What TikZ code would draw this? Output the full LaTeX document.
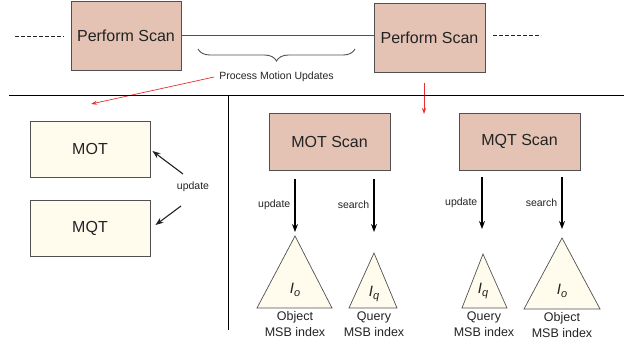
\documentclass[tikz,border=0pt]{standalone}
\usepackage{fontspec}
\setmainfont{Liberation Sans}
\usetikzlibrary{arrows.meta,decorations.pathreplacing}
\definecolor{scanfill}{RGB}{228,195,180}
\definecolor{tablefill}{RGB}{255,252,238}
\definecolor{edge}{RGB}{80,80,80}
\definecolor{ink}{RGB}{35,35,35}
\definecolor{flow}{RGB}{235,45,45}
\newcommand{\idxlabel}[1]{{\fontsize{15}{17}\selectfont\itshape I\raisebox{-3pt}{\fontsize{11}{12}\selectfont #1}}}
\begin{document}
\begin{tikzpicture}[x=1pt,y=-1pt,
  every node/.style={text=ink, inner sep=0pt},
  scanbox/.style={draw=edge, line width=0.9pt, fill=scanfill, font=\fontsize{16}{19}\selectfont},
  tablebox/.style={draw=edge, line width=0.9pt, fill=tablefill, minimum width=120pt, minimum height=56pt, font=\fontsize{16}{19}\selectfont},
  small/.style={font=\fontsize{10.5}{12}\selectfont},
  caption/.style={font=\fontsize{12.5}{16}\selectfont, align=center, anchor=north},
  idx/.style={draw=edge, line width=0.7pt, fill=tablefill, line join=miter},
  push/.style={-{Stealth[length=8pt,width=6pt]}, line width=1.1pt, draw=black},
  slant/.style={-{Stealth[length=8pt,width=6pt]}, line width=1.1pt, draw=ink},
  redarrow/.style={-{Stealth[length=6pt,width=4pt]}, draw=flow, line width=0.7pt},
  rule/.style={draw=black, line width=0.8pt},
  elide/.style={draw=ink, line width=1pt, dash pattern=on 4pt off 2pt}]
\useasboundingbox (0,0) rectangle (631,349);

% timeline of scans
\node[scanbox, minimum width=110pt, minimum height=69pt] (ps1) at (126,35.5) {Perform Scan};
\node[scanbox, minimum width=111pt, minimum height=69pt] (ps2) at (429.5,37.5) {Perform Scan};
\coordinate (dl1) at (15,36);
\coordinate (dl2) at (64,36);
\coordinate (dr1) at (493,35);
\coordinate (dr2) at (541,35);
\draw[elide] (dl1) -- (dl2);
\draw[elide] (dr1) -- (dr2);
\draw[draw=edge, line width=0.9pt] (ps1.east) -- (ps1.east -| ps2.west);

% interval between the scans
\coordinate (br1) at (198,49);
\coordinate (br2) at (355,49);
\draw[draw=edge, line width=0.9pt, decorate, decoration={brace, mirror, amplitude=12pt}] (br1) -- (br2);
\node[small] (pmu) at (276.5,77) {Process Motion Updates};
\coordinate (pmutip) at (91,104);
\draw[redarrow] ([xshift=-5pt]pmu.west) -- (pmutip);
\coordinate (scanfrom) at (424,83);
\coordinate (scanto) at (424,114);
\draw[redarrow] (scanfrom) -- (scanto);

% panel rules
\coordinate (hl1) at (9,95);
\coordinate (hl2) at (624,95);
\coordinate (vl1) at (228,95);
\coordinate (vl2) at (228,330);
\draw[rule] (hl1) -- (hl2);
\draw[rule] (vl1) -- (vl2);

% left panel: tables
\node[tablebox] (mot) at (90,149) {MOT};
\node[tablebox] (mqt) at (90,228) {MQT};
\node[small] (upd) at (193,187) {update};
\coordinate (u1) at (183,174);
\coordinate (u2) at (181,206);
\draw[slant] (u1) -- ([xshift=2pt,yshift=-2pt]mot.east);
\draw[slant] (u2) -- ([xshift=5pt,yshift=3pt]mqt.east);

% right panel: scans
\node[scanbox, minimum width=121pt, minimum height=57pt] (mots) at (329.5,141.5) {MOT Scan};
\node[scanbox, minimum width=121pt, minimum height=57pt] (mqts) at (519.5,141.5) {MQT Scan};

\coordinate (a1s) at (295,179); \coordinate (a1e) at (295,232);
\coordinate (a2s) at (374,179); \coordinate (a2e) at (374,232);
\coordinate (a3s) at (482,177); \coordinate (a3e) at (482,229);
\coordinate (a4s) at (562,177); \coordinate (a4e) at (562,229);
\draw[push] (a1s) -- (a1e);
\draw[push] (a2s) -- (a2e);
\draw[push] (a3s) -- (a3e);
\draw[push] (a4s) -- (a4e);
\node[small, anchor=east] (l1) at (290.5,205) {update};
\node[small, anchor=east] (l2) at (369.5,205) {search};
\node[small, anchor=east] (l3) at (477.5,203) {update};
\node[small, anchor=east] (l4) at (557.5,203) {search};

% MSB indexes
\coordinate (t1a) at (295,236); \coordinate (t1l) at (257,308); \coordinate (t1r) at (332,308);
\coordinate (t2a) at (374,253); \coordinate (t2l) at (349,308); \coordinate (t2r) at (397,308);
\coordinate (t3a) at (483,254); \coordinate (t3l) at (462,308); \coordinate (t3r) at (507,308);
\coordinate (t4a) at (562,238); \coordinate (t4l) at (524,309); \coordinate (t4r) at (600,309);
\draw[idx] (t1a) -- (t1r) -- (t1l) -- cycle;
\draw[idx] (t2a) -- (t2r) -- (t2l) -- cycle;
\draw[idx] (t3a) -- (t3r) -- (t3l) -- cycle;
\draw[idx] (t4a) -- (t4r) -- (t4l) -- cycle;
\node (i1) at (295,290) {\idxlabel{o}};
\node (i2) at (374,294) {\idxlabel{q}};
\node (i3) at (483,291) {\idxlabel{q}};
\node (i4) at (562,291) {\idxlabel{o}};
\node[caption] (c1) at (295,311.5) {Object\\MSB index};
\node[caption] (c2) at (374,311.5) {Query\\MSB index};
\node[caption] (c3) at (484,311.5) {Query\\MSB index};
\node[caption] (c4) at (562,312.5) {Object\\MSB index};
\end{tikzpicture}
\end{document}
